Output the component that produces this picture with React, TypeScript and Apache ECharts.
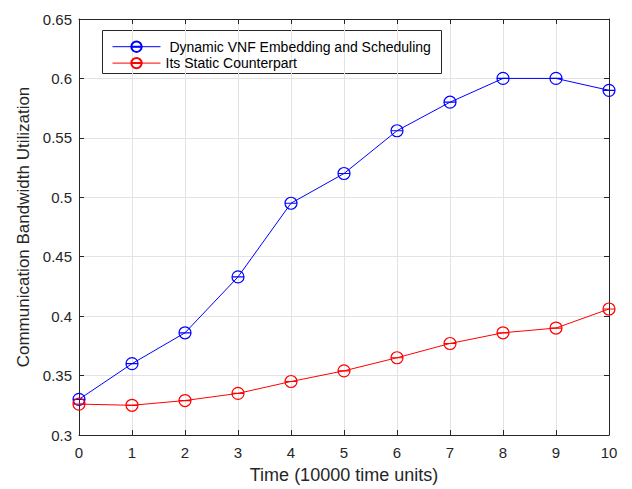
import React, { useEffect, useRef } from "react";
import * as echarts from "echarts";

const xValues = [0, 1, 2, 3, 4, 5, 6, 7, 8, 9, 10];
const dynamicValues = [0.33, 0.36, 0.386, 0.433, 0.495, 0.52, 0.556, 0.58, 0.6, 0.6, 0.59];
const staticValues = [0.326, 0.325, 0.329, 0.335, 0.345, 0.354, 0.365, 0.377, 0.386, 0.39, 0.406];
const seriesNames = [" Dynamic VNF Embedding and Scheduling", "Its Static Counterpart"];

const markerPath = "path://M0,5 A5,5 0 1,0 10,5 A5,5 0 1,0 0,5 Z M0,5 L10,5";

export default function App() {
  const ref = useRef<HTMLDivElement>(null);
  useEffect(() => {
    const chart = echarts.init(ref.current!, undefined, { renderer: "svg" });
    const font = "Liberation Sans, Arial, sans-serif";
    const axisColor = "#262626";
    const mk = (name: string, data: number[], color: string) => ({
      name,
      type: "line",
      data: xValues.map((x, i) => [x, data[i]]),
      symbol: markerPath,
      symbolSize: 12,
      showSymbol: true,
      lineStyle: { color, width: 1 },
      itemStyle: { color: "none", borderColor: color, borderWidth: 1.2 },
      emphasis: { disabled: true },
    });
    chart.setOption({
      animation: false,
      backgroundColor: "#fff",
      textStyle: { fontFamily: font },
      grid: { left: 79, right: 23, top: 19, bottom: 52, containLabel: false },
      legend: {
        orient: "vertical",
        left: 107,
        top: 34,
        itemWidth: 48,
        itemHeight: 13,
        itemGap: 1,
        lineStyle: { width: 1 },
        textStyle: { fontSize: 14, color: "#000", fontFamily: font },
        data: seriesNames,
      },
      graphic: [
        {
          type: "rect",
          shape: { x: 102.5, y: 30.5, width: 339, height: 43 },
          style: { fill: "none", stroke: "#262626", lineWidth: 1 },
          z: 0,
        },
      ],
      xAxis: [
        {
          type: "value",
          min: 0,
          max: 10,
          interval: 1,
          name: "Time (10000 time units)",
          nameLocation: "middle",
          nameGap: 31,
          nameTextStyle: { fontSize: 18, color: "#262626", fontFamily: font },
          axisLine: { lineStyle: { color: axisColor } },
          axisTick: { inside: true, length: 5, lineStyle: { color: axisColor } },
          axisLabel: { fontSize: 15, color: "#262626", margin: 10 },
          splitLine: { show: true, lineStyle: { color: "#e3e3e3" } },
        },
        {
          type: "value",
          position: "top",
          min: 0,
          max: 10,
          interval: 1,
          axisLine: { show: true, onZero: false, lineStyle: { color: axisColor } },
          axisTick: { inside: true, length: 5, lineStyle: { color: axisColor } },
          axisLabel: { show: false },
          splitLine: { show: false },
        },
      ],
      yAxis: [
        {
          type: "value",
          min: 0.3,
          max: 0.65,
          interval: 0.05,
          name: "Communication Bandwidth Utilization",
          nameLocation: "middle",
          nameGap: 46,
          nameTextStyle: { fontSize: 17, color: "#262626", fontFamily: font },
          axisLine: { show: true, lineStyle: { color: axisColor } },
          axisTick: { show: true, inside: true, length: 5, lineStyle: { color: axisColor } },
          axisLabel: { fontSize: 15, color: "#262626", margin: 7 },
          splitLine: { show: true, lineStyle: { color: "#e3e3e3" } },
        },
        {
          type: "value",
          position: "right",
          min: 0.3,
          max: 0.65,
          interval: 0.05,
          axisLine: { show: true, onZero: false, lineStyle: { color: axisColor } },
          axisTick: { show: true, inside: true, length: 5, lineStyle: { color: axisColor } },
          axisLabel: { show: false },
          splitLine: { show: false },
        },
      ],
      series: [
        mk(seriesNames[0], dynamicValues, "#0000ff"),
        mk(seriesNames[1], staticValues, "#ff0000"),
      ],
    });
    return () => chart.dispose();
  }, []);
  return <div ref={ref} style={{ width: 632, height: 489, position: "absolute", left: 0, top: 0 }} />;
}
